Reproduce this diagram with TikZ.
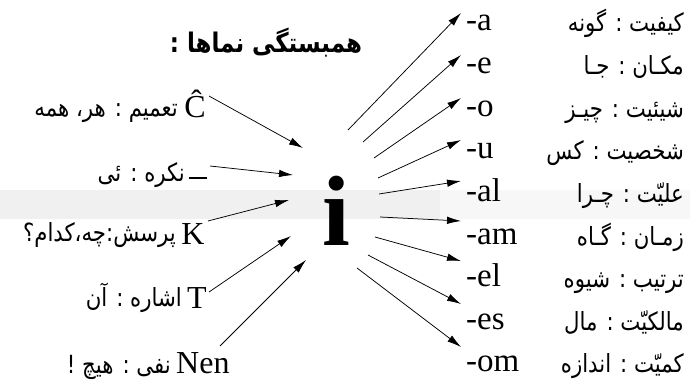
\documentclass[tikz,border=0pt]{standalone}
\usepackage{fontspec}
\setmainfont{Liberation Serif}
\newfontfamily\arabicfont[Script=Arabic,FakeStretch=0.85]{DejaVu Sans}
\TeXXeTstate=1
\usetikzlibrary{arrows.meta}
\begin{document}
\begin{tikzpicture}[x=1pt,y=-1pt,
  arr/.style={-{Latex[length=14pt,width=7.5pt]}, line width=0.75pt},
  lat/.style={inner sep=0pt, font=\fontsize{32}{32}\selectfont, anchor=base},
  latw/.style={inner sep=0pt, font=\fontsize{33}{33}\selectfont, anchor=base west},
  far/.style={inner sep=0pt, anchor=base east, font=\fontsize{25}{28}\arabicfont},
  ttl/.style={inner sep=0pt, anchor=base, font=\fontsize{27}{30}\arabicfont\bfseries}]
\useasboundingbox (0,0) rectangle (690,382);
\fill[gray!12] (0,190) rectangle (440,219);
\fill[gray!6] (440,190) rectangle (690,219);

\node[ttl] (title) at (266,53) {\beginR همبستگی نماها :\endR};

\node[inner sep=0pt, anchor=base, font=\fontsize{100}{100}\selectfont\bfseries] (i) at (336,245) {i};

% left side
\node[lat] (C) at (195,118) {Ĉ};
\node[far] (Ct) at (178,117) {\beginR تعمیم : هر، همه\endR};
\node[inner sep=0pt] (D) at (198,178) {\rule{18pt}{1.3pt}};
\node[far] (Dt) at (185,182) {\beginR نکره : ئی\endR};
\node[lat] (K) at (193,244) {K};
\node[far] (Kt) at (176,241) {\beginR پرسش:چه،کدام؟\endR};
\node[lat] (T) at (197,308) {T};
\node[far] (Tt) at (182,306) {\beginR اشاره : آن\endR};
\node[lat, anchor=base west] (N) at (176,373) {Nen};
\node[far] (Nt) at (171,373) {\beginR نفی : هیچ !\endR};

\coordinate (iC) at (303,148);
\coordinate (iD) at (293,175);
\coordinate (iK) at (289,200);
\coordinate (iT) at (291,236);
\coordinate (iN) at (306,260);
\coordinate (sC) at (209,96);
\coordinate (sD) at (210,166);
\coordinate (sK) at (208,221);
\coordinate (sT) at (209,292);
\coordinate (sN) at (220,346);
\draw[arr] (sC) -- (iC);
\draw[arr] (sD) -- (iD);
\draw[arr] (sK) -- (iK);
\draw[arr] (sT) -- (iT);
\draw[arr] (sN) -- (iN);

% right side
\foreach \k/\lab/\fa in {0/-a/{کیفیت : گونه},1/-e/{مکـان : جـا},2/-o/{شیئیت : چیـز},3/-u/{شخصیت : کس},4/-al/{علیّت : چـرا},5/-am/{زمـان : گـاه},6/-el/{ترتیب : شیوه},7/-es/{مالکیّت : مال},8/-om/{کمیّت : اندازه}}{
  \node[latw] (r\k) at (466,{31+42.6*\k}) {\lab};
  \node[far] (f\k) at (684,{32+42.6*\k}) {\beginR\fa\endR};
}
\foreach \k/\sx/\sy/\ty in {0/348/130/13,1/363/142/55,2/374/158/98,3/378/178/140,4/379/194/181,5/380/217/221,6/375/237/261,7/368/255/304,8/357/268/347}{
  \coordinate (s\k) at (\sx,\sy);
  \coordinate (t\k) at (461,\ty);
  \draw[arr] (s\k) -- (t\k);
}
\end{tikzpicture}
\end{document}
